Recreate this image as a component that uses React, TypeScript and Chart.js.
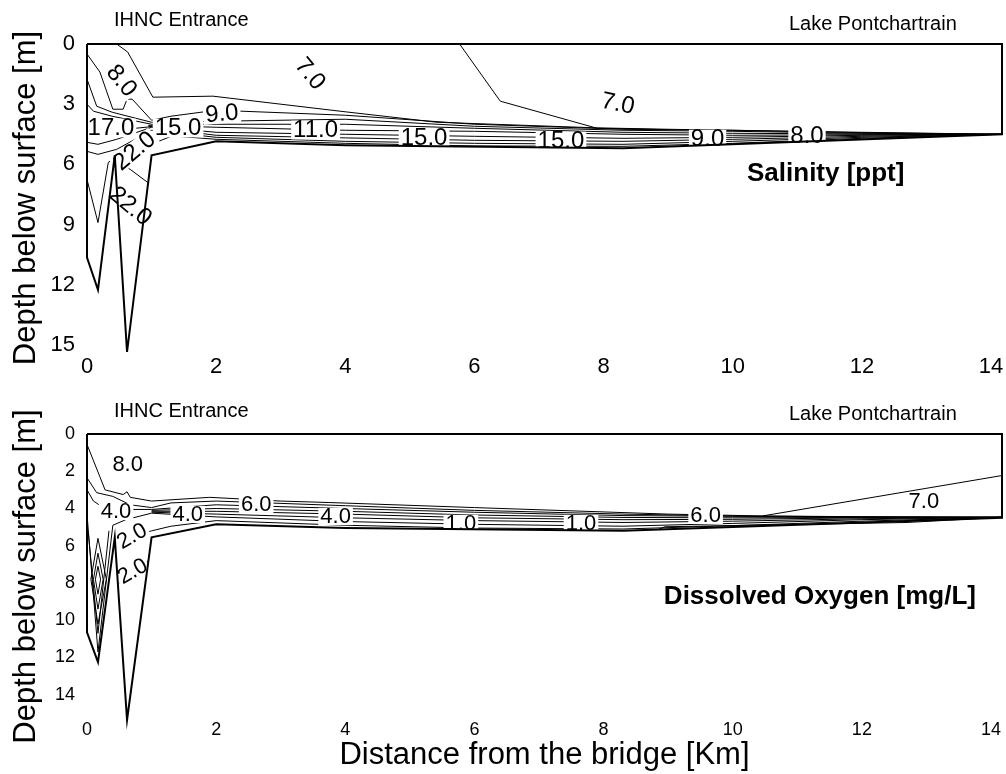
import React, { useEffect, useRef } from "react";
import { Chart, registerables } from "chart.js";

Chart.register(...registerables);

const FONT = "'Liberation Sans', Arial, Helvetica, sans-serif";

type Pt = [number, number];

// ---------- axes ----------
const xTicks = [0, 2, 4, 6, 8, 10, 12, 14];
const xMax = 14.17;
const salDepthTicks = [0, 3, 6, 9, 12, 15];
const salDepthMax = 15.35;
const oxyDepthTicks = [0, 2, 4, 6, 8, 10, 12, 14];
const oxyDepthMax = 15.3;

// ---------- bathymetry (data boundary), [km, m] ----------
const bathymetry: Pt[] = [
  [0, 0], [14.17, 0], [14.17, 4.5], [8.3, 5.2], [4, 5.05], [2, 4.85], [1, 5.55],
  [0.62, 15.35], [0.43, 5.55], [0.17, 12.25], [0, 10.65], [0, 0],
];

// ---------- salinity contours ----------
const sal7a: Pt[] = [[0.46, 0], [0.63, 0.4], [1.02, 2.65], [1.95, 2.6], [3.92, 3.35], [5.42, 3.9], [7.9, 4.18], [9.0, 4.25], [12, 4.4], [14.17, 4.5]];
const sal7b: Pt[] = [[5.77, 0], [6.4, 2.85], [7.9, 4.2], [9.0, 4.27]];
const sal8: Pt[] = [[0, 0.5], [0.2, 1.4], [0.4, 3.25], [0.56, 3.25], [0.62, 2.75], [0.7, 2.75], [1.0, 3.8], [1.3, 3.6], [2.0, 3.3], [4, 3.55], [6, 4.0], [8.3, 4.25], [10, 4.3], [12, 4.42], [14.17, 4.5]];
const sal9: Pt[] = [[0, 1.75], [0.15, 3.1], [0.39, 3.4], [1.0, 3.9], [2.0, 3.85], [4, 3.75], [6, 4.1], [8.3, 4.3], [10, 4.35], [12, 4.45], [14.17, 4.5]];
const sal10: Pt[] = [[0, 3.0], [0.1, 3.35], [0.39, 3.6], [1.0, 4.0], [2, 4.0], [4, 4.0], [6, 4.2], [8.3, 4.4], [10, 4.45], [12, 4.48], [14.17, 4.5]];
const sal11: Pt[] = [[0.95, 4.05], [2, 4.15], [4, 4.3], [6, 4.35], [8.3, 4.5], [10, 4.55], [12, 4.52], [14.17, 4.5]];
const sal13: Pt[] = [[0.95, 4.1], [2, 4.4], [4, 4.5], [6, 4.6], [8.3, 4.7], [10, 4.65], [12, 4.55], [14.17, 4.5]];
const sal16: Pt[] = [[0, 4.2], [0.75, 4.2], [1.0, 4.12]];
const sal15: Pt[] = [[0, 4.9], [0.17, 5.0], [0.46, 4.75], [1.0, 4.15], [2, 4.55], [4, 4.68], [6, 4.8], [8.3, 4.85], [10, 4.75], [12, 4.6], [14.17, 4.5]];
const sal17: Pt[] = [[0, 5.35], [0.17, 5.5], [0.46, 5.25], [1.0, 4.3], [2, 4.65], [4, 4.85], [6, 4.95], [8.3, 5.0], [10, 4.85], [12, 4.65], [14.17, 4.5]];
const sal19: Pt[] = [[1.0, 4.5], [2, 4.75], [4, 4.95], [6, 5.08], [8.3, 5.1], [10, 4.95], [12, 4.7], [14.17, 4.5]];
const sal22a: Pt[] = [[0, 6.75], [0.17, 8.9], [0.33, 5.9], [0.43, 5.7], [0.74, 5.35], [1.0, 5.0], [1.3, 4.6]];
const sal22b: Pt[] = [[0.5, 5.95], [0.67, 6.25], [0.94, 6.9]];

const salLabelText = ["8.0", "7.0", "7.0", "17.0", "15.0", "9.0", "11.0", "15.0", "15.0", "9.0", "8.0", "22.0", "22.0"];
const salLabelX = [0.53, 3.45, 8.22, 0.37, 1.41, 2.09, 3.54, 5.22, 7.34, 9.61, 11.15, 0.74, 0.67];
const salLabelY = [1.85, 1.5, 3.0, 4.2, 4.2, 3.5, 4.3, 4.7, 4.85, 4.75, 4.6, 5.35, 8.1];
const salLabelAngle = [50, 50, 12, 0, 0, -5, 0, 0, 0, 0, 0, -40, 40];

// ---------- dissolved oxygen contours ----------
const oxy7a: Pt[] = [[0, 0.56], [0.2, 2.3], [0.28, 3.0], [0.56, 3.25], [0.62, 3.1], [0.67, 3.4], [1.0, 3.6], [1.9, 3.4], [3.0, 3.6], [3.76, 3.68], [6, 3.95], [9.0, 4.3], [10.46, 4.4], [12, 4.44], [14.17, 4.47]];
const oxy7b: Pt[] = [[14.17, 2.23], [10.46, 4.4]];
const oxy6: Pt[] = [[0, 2.35], [0.15, 3.15], [0.4, 3.35], [0.67, 3.8], [1.0, 3.95], [1.3, 3.7], [2, 3.6], [4, 3.85], [6, 4.1], [8.3, 4.3], [10, 4.4], [12, 4.45], [14.17, 4.47]];
const oxy5: Pt[] = [[0, 3.0], [0.1, 3.6], [0.23, 3.9], [0.7, 4.05], [1.0, 4.05], [2, 3.8], [4, 4.0], [6, 4.2], [8.3, 4.38], [10, 4.42], [12, 4.46], [14.17, 4.47]];
const oxy4: Pt[] = [[1.0, 4.1], [2, 4.0], [4, 4.15], [6, 4.35], [8.3, 4.48], [10, 4.5], [12, 4.48], [14.17, 4.47]];
const oxy3: Pt[] = [[1.0, 4.15], [2, 4.15], [4, 4.3], [6, 4.5], [8.3, 4.6], [10, 4.58], [12, 4.5], [14.17, 4.47]];
const oxy2: Pt[] = [[1.0, 4.2], [2, 4.3], [4, 4.5], [6, 4.65], [8.3, 4.75], [10, 4.68], [12, 4.55], [14.17, 4.47]];
const oxy1: Pt[] = [[0, 4.3], [0.17, 11.7], [0.4, 4.9], [0.6, 4.6], [1.0, 4.25], [2, 4.45], [4, 4.7], [6, 4.85], [8.3, 4.95], [10, 4.8], [12, 4.6], [14.17, 4.47]];
const oxy05: Pt[] = [[0.43, 5.8], [0.7, 5.5], [1.0, 5.2], [1.3, 4.95], [2, 4.65], [4, 4.9], [6, 5.05], [8.3, 5.1], [10, 4.92], [12, 4.68], [14.17, 4.47]];
const oxyLens: Pt[] = [[8.85, 5.12], [8.95, 4.98], [12.7, 4.75], [14.17, 4.47]];
const oxy2b: Pt[] = [[0.5, 8.0], [0.71, 7.4], [0.95, 6.8]];
const oxyV: Pt[] = [[0.02, 5.3], [0.17, 10.7], [0.34, 5.2]];
const oxyD1: Pt[] = [[0.17, 5.6], [0.3, 7.8], [0.17, 10.2], [0.06, 7.8], [0.17, 5.6]];
const oxyD2: Pt[] = [[0.17, 6.4], [0.25, 7.8], [0.17, 9.4], [0.1, 7.8], [0.17, 6.4]];
const oxyD3: Pt[] = [[0.17, 7.1], [0.21, 7.8], [0.17, 8.6], [0.13, 7.8], [0.17, 7.1]];

const oxyLabelText = ["8.0", "4.0", "4.0", "6.0", "4.0", "1.0", "1.0", "6.0", "7.0", "2.0", "2.0"];
const oxyLabelX = [0.63, 0.45, 1.56, 2.62, 3.85, 5.79, 7.65, 9.58, 12.96, 0.7, 0.71];
const oxyLabelY = [1.64, 4.17, 4.33, 3.79, 4.44, 4.81, 4.81, 4.38, 3.63, 5.51, 7.39];
const oxyLabelAngle = [0, 0, 0, 0, 0, 0, 0, 0, 0, -30, -30];

// ---------- annotations ----------
const placeNames = ["IHNC Entrance", "Lake Pontchartrain"];
const placeX = [1.46, 12.17];
const salTitle = "Salinity [ppt]";
const salTitlePos: Pt = [11.44, 6.45];
const oxyTitle = "Dissolved Oxygen [mg/L]";
const oxyTitlePos: Pt = [11.35, 8.74];

type Spec = {
  contours: Pt[][];
  yMax: number;
  yTicks: number[];
  tickSize: number;
  xTickPad: number;
  xAxisHeight: number;
  xTitle: boolean;
  labels: { text: string[]; x: number[]; y: number[]; angle: number[]; size: number };
  placeDy: number[];
  title: string;
  titlePos: Pt;
};

function lineDs(data: Pt[], width: number) {
  return {
    data: data.map(([x, y]) => ({ x, y })),
    showLine: true,
    borderColor: "#000",
    backgroundColor: "#000",
    borderWidth: width,
    pointRadius: 0,
    pointHoverRadius: 0,
    fill: false,
    tension: 0,
    clip: false as const,
  };
}

function makePlugin(spec: Spec) {
  return {
    id: "contourText",
    beforeDatasetDraw(chart: any, args: any) {
      if (args.index !== 0) return;
      const { ctx } = chart;
      const xs = chart.scales.x;
      const ys = chart.scales.y;
      const L = spec.labels;
      ctx.save();
      ctx.font = `${L.size}px ${FONT}`;
      ctx.textAlign = "center";
      ctx.textBaseline = "middle";
      for (let i = 0; i < L.text.length; i++) {
        const px = xs.getPixelForValue(L.x[i]);
        const py = ys.getPixelForValue(L.y[i]);
        ctx.save();
        ctx.translate(px, py);
        ctx.rotate((L.angle[i] * Math.PI) / 180);
        const w = ctx.measureText(L.text[i]).width;
        ctx.fillStyle = "#fff";
        ctx.fillRect(-w / 2 - 2, -L.size * 0.4, w + 4, L.size * 0.78);
        ctx.fillStyle = "#000";
        ctx.fillText(L.text[i], 0, 0);
        ctx.restore();
      }
      ctx.restore();
    },
    afterDraw(chart: any) {
      const { ctx, chartArea } = chart;
      const xs = chart.scales.x;
      const ys = chart.scales.y;
      ctx.save();
      ctx.fillStyle = "#000";
      ctx.textAlign = "center";
      ctx.textBaseline = "middle";
      ctx.font = `20px ${FONT}`;
      for (let i = 0; i < placeNames.length; i++) {
        ctx.fillText(placeNames[i], xs.getPixelForValue(placeX[i]), chartArea.top + spec.placeDy[i]);
      }
      ctx.font = `bold 26px ${FONT}`;
      ctx.fillText(spec.title, xs.getPixelForValue(spec.titlePos[0]), ys.getPixelForValue(spec.titlePos[1]));
      ctx.restore();
    },
  };
}

function buildConfig(spec: Spec): any {
  return {
    type: "scatter",
    data: {
      datasets: [lineDs(bathymetry, 2), ...spec.contours.map((c) => lineDs(c, 1))],
    },
    options: {
      responsive: false,
      animation: false,
      events: [],
      layout: { padding: { top: 44, right: 4, left: 0, bottom: 0 } },
      plugins: {
        legend: { display: false },
        tooltip: { enabled: false },
        title: { display: false },
      },
      scales: {
        x: {
          type: "linear",
          min: 0,
          max: xMax,
          grid: { display: false, drawTicks: false },
          border: { display: false },
          ticks: {
            font: { family: FONT, size: spec.tickSize },
            color: "#000",
            padding: spec.xTickPad,
            maxRotation: 0,
            autoSkip: false,
          },
          afterBuildTicks: (s: any) => {
            s.ticks = xTicks.map((v) => ({ value: v }));
          },
          afterFit: (s: any) => {
            s.height = spec.xAxisHeight;
          },
          title: spec.xTitle
            ? {
                display: true,
                text: "Distance from the bridge [Km]",
                font: { family: FONT, size: 31 },
                color: "#000",
                padding: 0,
              }
            : { display: false },
        },
        y: {
          type: "linear",
          reverse: true,
          min: 0,
          max: spec.yMax,
          grid: { display: false, drawTicks: false },
          border: { display: false },
          ticks: {
            font: { family: FONT, size: spec.tickSize },
            color: "#000",
            padding: 12,
            autoSkip: false,
          },
          afterBuildTicks: (s: any) => {
            s.ticks = spec.yTicks.map((v) => ({ value: v }));
          },
          afterFit: (s: any) => {
            s.width = 87;
          },
          title: {
            display: true,
            text: "Depth below surface [m]",
            font: { family: FONT, size: 31 },
            color: "#000",
            padding: { top: 8, bottom: 0 },
          },
        },
      },
    },
    plugins: [makePlugin(spec)],
  };
}

const salSpec: Spec = {
  contours: [sal7a, sal7b, sal8, sal9, sal10, sal11, sal13, sal16, sal15, sal17, sal19, sal22a, sal22b],
  yMax: salDepthMax,
  yTicks: salDepthTicks,
  tickSize: 22,
  xTickPad: 2,
  xAxisHeight: 38,
  xTitle: false,
  labels: { text: salLabelText, x: salLabelX, y: salLabelY, angle: salLabelAngle, size: 24 },
  placeDy: [-24, -20],
  title: salTitle,
  titlePos: salTitlePos,
};

const oxySpec: Spec = {
  contours: [oxy7a, oxy7b, oxy6, oxy5, oxy4, oxy3, oxy2, oxy1, oxy05, oxyLens, oxy2b, oxyV, oxyD1, oxyD2, oxyD3],
  yMax: oxyDepthMax,
  yTicks: oxyDepthTicks,
  tickSize: 18,
  xTickPad: 0,
  xAxisHeight: 55,
  xTitle: true,
  labels: { text: oxyLabelText, x: oxyLabelX, y: oxyLabelY, angle: oxyLabelAngle, size: 22 },
  placeDy: [-23, -20],
  title: oxyTitle,
  titlePos: oxyTitlePos,
};

function Panel({ spec, top, height }: { spec: Spec; top: number; height: number }) {
  const ref = useRef<HTMLCanvasElement | null>(null);
  useEffect(() => {
    if (!ref.current) return;
    const chart = new Chart(ref.current, buildConfig(spec));
    return () => chart.destroy();
  }, [spec]);
  return (
    <canvas
      ref={ref}
      width={1006}
      height={height}
      style={{ position: "absolute", left: 0, top, width: 1006, height, display: "block" }}
    />
  );
}

export default function App() {
  return (
    <div style={{ position: "absolute", left: 0, top: 0, width: 1006, height: 774, background: "#fff" }}>
      <Panel spec={salSpec} top={0} height={390} />
      <Panel spec={oxySpec} top={390} height={384} />
    </div>
  );
}
